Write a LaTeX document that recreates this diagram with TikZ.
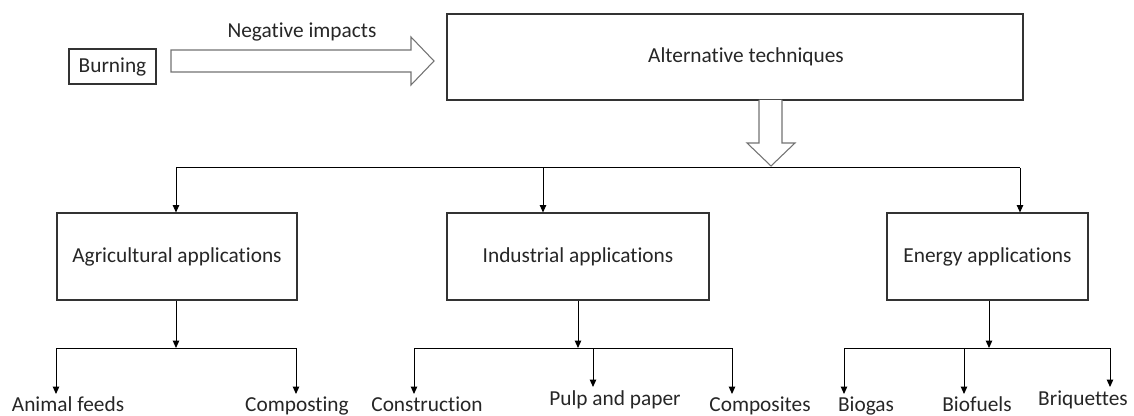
\documentclass[tikz,border=0pt]{standalone}
\usepackage{fontspec}
\setmainfont{Carlito}[Ligatures=NoCommon]
\usetikzlibrary{arrows.meta}
\begin{document}
\begin{tikzpicture}[x=0.75pt,y=-0.75pt,
  box/.style={draw=black!80, line width=0.8pt, inner sep=0pt, fill=white,
    font=\fontsize{16}{19}\selectfont, text=black!85},
  lbl/.style={inner sep=0pt, font=\fontsize{16}{19}\selectfont, text=black!85},
  conn/.style={line width=0.75pt, draw=black},
  arr/.style={conn, -{Triangle[length=5.5pt,width=4.8pt]}},
  blk/.style={draw=black!55, line width=0.8pt, fill=white, line join=miter}]
\useasboundingbox (0,0) rectangle (1134,416);

% boxes
\node[box, minimum width={87*0.75pt}, minimum height={35*0.75pt}] (burn) at (112.5,66.5) {Burning};
\node[box, minimum width={576*0.75pt}, minimum height={86*0.75pt}] (alt) at (735,57) {};
\node[lbl] (altt) at (746,57) {Alternative techniques};
\node[box, minimum width={240*0.75pt}, minimum height={87*0.75pt}] (agri) at (177,256.5) {Agricultural applications};
\node[box, minimum width={262*0.75pt}, minimum height={87*0.75pt}] (ind) at (578,256.5) {Industrial applications};
\node[box, minimum width={201*0.75pt}, minimum height={87*0.75pt}] (ene) at (987.5,256.5) {Energy applications};

% block arrow Burning -> Alternative
\node[lbl, anchor=base] (neg) at (302,38) {Negative impacts};
\draw[blk] (171,50) -- (411,50) -- (411,37) -- (434,61) -- (411,85) -- (411,72) -- (171,72) -- cycle;

% block arrow down
\draw[blk] (759,100) -- (759,143) -- (747,143) -- (771,166) -- (795,143) -- (782,143) -- (782,100);

% top distribution
\coordinate (t1) at (176,168);
\coordinate (t2) at (543,168);
\coordinate (t3) at (1020,168);
\draw[conn] (t1) -- (t3);
\draw[arr] (t1) -- (t1 |- agri.north);
\draw[arr] (t2) -- (t2 |- ind.north);
\draw[arr] (t3) -- (t3 |- ene.north);

% bottom labels
\node[lbl, anchor=base] (feeds) at (68,411) {Animal feeds};
\node[lbl, anchor=base] (comp) at (297,411) {Composting};
\node[lbl, anchor=base] (cons) at (427,411) {Construction};
\node[lbl, anchor=base] (pulp) at (615,405) {Pulp and paper};
\node[lbl, anchor=base] (cmps) at (760,411) {Composites};
\node[lbl, anchor=base] (bgas) at (866,411) {Biogas};
\node[lbl, anchor=base] (bfue) at (977,411) {Biofuels};
\node[lbl, anchor=base] (briq) at (1083,405) {Briquettes};

% agricultural branch
\coordinate (ah) at (176,348);
\draw[arr] (ah |- agri.south) -- (ah);
\coordinate (a1) at (56,348);
\coordinate (a2) at (296,348);
\draw[conn] (a1) -- (a2);
\coordinate (ae1) at (56,394);
\coordinate (ae2) at (296,394);
\draw[arr] (a1) -- (ae1);
\draw[arr] (a2) -- (ae2);

% industrial branch
\coordinate (ih) at (578,348);
\draw[arr] (ih |- ind.south) -- (ih);
\coordinate (i1) at (414,348);
\coordinate (i2) at (593,348);
\coordinate (i3) at (732,348);
\draw[conn] (i1) -- (i3);
\coordinate (ie1) at (414,394);
\coordinate (ie2) at (593,387);
\coordinate (ie3) at (732,394);
\draw[arr] (i1) -- (ie1);
\draw[arr] (i2) -- (ie2);
\draw[arr] (i3) -- (ie3);

% energy branch
\coordinate (eh) at (989,348);
\draw[arr] (eh |- ene.south) -- (eh);
\coordinate (e1) at (844,348);
\coordinate (e2) at (964,348);
\coordinate (e3) at (1110,348);
\draw[conn] (e1) -- (e3);
\coordinate (ee1) at (844,394);
\coordinate (ee2) at (964,394);
\coordinate (ee3) at (1110,387);
\draw[arr] (e1) -- (ee1);
\draw[arr] (e2) -- (ee2);
\draw[arr] (e3) -- (ee3);
\end{tikzpicture}
\end{document}
